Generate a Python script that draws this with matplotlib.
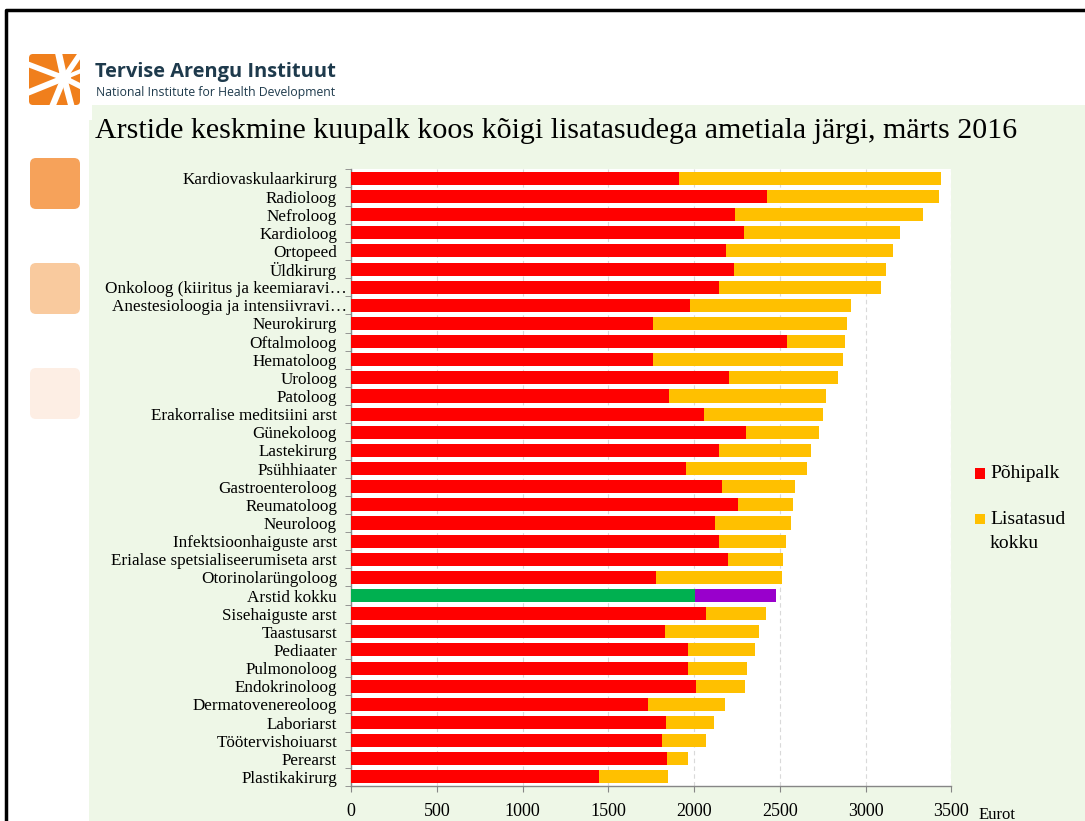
import matplotlib.pyplot as plt
from matplotlib.patches import Rectangle, FancyBboxPatch, Circle
from matplotlib.transforms import ScaledTranslation
import numpy as np

# andmed (eurot), ülevalt alla
ametialad = [
    "Kardiovaskulaarkirurg", "Radioloog", "Nefroloog", "Kardioloog", "Ortopeed",
    "Üldkirurg", "Onkoloog (kiiritus ja keemiaravi…", "Anestesioloogia ja intensiivravi…",
    "Neurokirurg", "Oftalmoloog", "Hematoloog", "Uroloog", "Patoloog",
    "Erakorralise meditsiini arst", "Günekoloog", "Lastekirurg", "Psühhiaater",
    "Gastroenteroloog", "Reumatoloog", "Neuroloog", "Infektsioonhaiguste arst",
    "Erialase spetsialiseerumiseta arst", "Otorinolarüngoloog", "Arstid kokku",
    "Sisehaiguste arst", "Taastusarst", "Pediaater", "Pulmonoloog", "Endokrinoloog",
    "Dermatovenereoloog", "Laboriarst", "Töötervishoiuarst", "Perearst", "Plastikakirurg",
]
pohipalk = [
    1912, 2426, 2239, 2292, 2187, 2232, 2142, 1978, 1762, 2539, 1762, 2204, 1854,
    2059, 2301, 2147, 1951, 2161, 2258, 2121, 2147, 2200, 1778, 2004, 2072, 1833,
    1963, 1963, 2010, 1731, 1836, 1811, 1839, 1445,
]
kokku = [
    3440, 3429, 3332, 3201, 3157, 3118, 3087, 2915, 2889, 2878, 2869, 2838, 2770,
    2753, 2726, 2682, 2659, 2585, 2578, 2564, 2537, 2516, 2513, 2479, 2420, 2379,
    2354, 2310, 2296, 2177, 2118, 2069, 1963, 1850,
]
lisatasud = [k - p for k, p in zip(kokku, pohipalk)]

W, H = 1085, 821
fig = plt.figure(figsize=(W / 100, H / 100), dpi=100)
fig.patch.set_facecolor("white")

# taust ja kujundus (pikslites)
bg = fig.add_axes([0, 0, 1, 1])
bg.set_xlim(0, W)
bg.set_ylim(H, 0)
bg.axis("off")
bg.add_patch(Rectangle((89, 105), W - 89, H - 105, facecolor="#EEF7E7", edgecolor="none"))
bg.plot([6, 6, W], [H, 10, 10], color="black", lw=2.5)

for y0, c in [(158, "#F6A25A"), (263, "#F9CA9E"), (368, "#FDEEE4")]:
    bg.add_patch(FancyBboxPatch((30, y0), 50, 51, boxstyle="round,pad=0,rounding_size=6",
                                facecolor=c, edgecolor="none"))

# logo
bg.add_patch(FancyBboxPatch((29, 54), 51, 51, boxstyle="round,pad=0,rounding_size=4",
                            facecolor="#F07F1C", edgecolor="none"))
cx, cy = 64, 78
rays = [(57, 46, 5.0), (83, 50, 4.0), (88, 68, 3.0), (88, 90, 4.0), (73, 112, 4.5),
        (50, 112, 4.5), (22, 95, 4.5), (22, 62, 4.0)]
for ex, ey, w in rays:
    bg.plot([cx, ex], [cy, ey], color="white", lw=w, solid_capstyle="butt")
bg.add_patch(Circle((cx, cy), 7, facecolor="white", edgecolor="none"))
bg.add_patch(Rectangle((20, 40), 9, 80, facecolor="white", edgecolor="none"))
bg.add_patch(Rectangle((80, 40), 12, 80, facecolor="white", edgecolor="none"))
bg.add_patch(Rectangle((20, 40), 70, 14, facecolor="white", edgecolor="none"))
bg.add_patch(Rectangle((20, 105), 69, 10, facecolor="white", edgecolor="none"))

bg.text(95, 77, "Tervise Arengu Instituut", fontsize=14.4, fontweight="bold",
        family="Open Sans", color="#1E3A4C", va="baseline")
bg.text(96, 96, "National Institute for Health Development", fontsize=8.8,
        family="Open Sans", color="#1E3A4C", va="baseline")
bg.text(95, 138, "Arstide keskmine kuupalk koos kõigi lisatasudega ametiala järgi, märts 2016",
        fontsize=21.6, family="Liberation Serif", color="black", va="baseline")

# legend
bg.add_patch(Rectangle((975, 468), 10, 11, facecolor="#FF0000", edgecolor="none"))
bg.text(990, 474, "Põhipalk", fontsize=14, family="Liberation Serif", va="center")
bg.add_patch(Rectangle((975, 514), 10, 10, facecolor="#FFC000", edgecolor="none"))
bg.text(990, 520, "Lisatasud", fontsize=14, family="Liberation Serif", va="center")
bg.text(990, 543, "kokku", fontsize=14, family="Liberation Serif", va="center")
bg.text(979, 819, "Eurot", fontsize=12, family="Liberation Serif", va="baseline")

# joonis
ax = fig.add_axes([351 / W, (H - 786) / H, 600.5 / W, (786 - 169.3) / H])
ax.set_facecolor("white")
y = np.arange(len(ametialad))
varv1 = ["#00B050" if a == "Arstid kokku" else "#FF0000" for a in ametialad]
varv2 = ["#9900CC" if a == "Arstid kokku" else "#FFC000" for a in ametialad]
ax.barh(y, pohipalk, height=0.72, color=varv1, zorder=3)
ax.barh(y, lisatasud, left=pohipalk, height=0.72, color=varv2, zorder=3)

ax.set_ylim(len(ametialad) - 0.5, -0.5)
ax.set_xlim(0, 3500)
ax.set_xticks(range(0, 3501, 500))
ax.set_yticks(y)
ax.set_yticklabels(ametialad, fontsize=12.3, family="Liberation Serif")
ax.set_yticks(np.arange(-0.5, len(ametialad)), minor=True)
ax.tick_params(axis="y", which="major", length=0, pad=10)
ax.tick_params(axis="y", which="minor", length=4, color="#868686", direction="out")
ax.tick_params(axis="x", length=4, color="#868686", pad=8)
for lab in ax.get_xticklabels():
    lab.set_fontsize(13)
    lab.set_family("Liberation Serif")
# lühendatud nimed ulatuvad teljele lähemale
for lab in ax.get_yticklabels():
    if lab.get_text().endswith("…"):
        lab.set_transform(lab.get_transform() + ScaledTranslation(0.1, 0, fig.dpi_scale_trans))
ax.grid(axis="x", color="#D9D9D9", linestyle=(0, (4, 3)), linewidth=0.8, zorder=0)
for s in ["top", "right"]:
    ax.spines[s].set_visible(False)
for s in ["left", "bottom"]:
    ax.spines[s].set_color("#868686")
    ax.spines[s].set_linewidth(1)

fig.savefig("out.png", dpi=100)
